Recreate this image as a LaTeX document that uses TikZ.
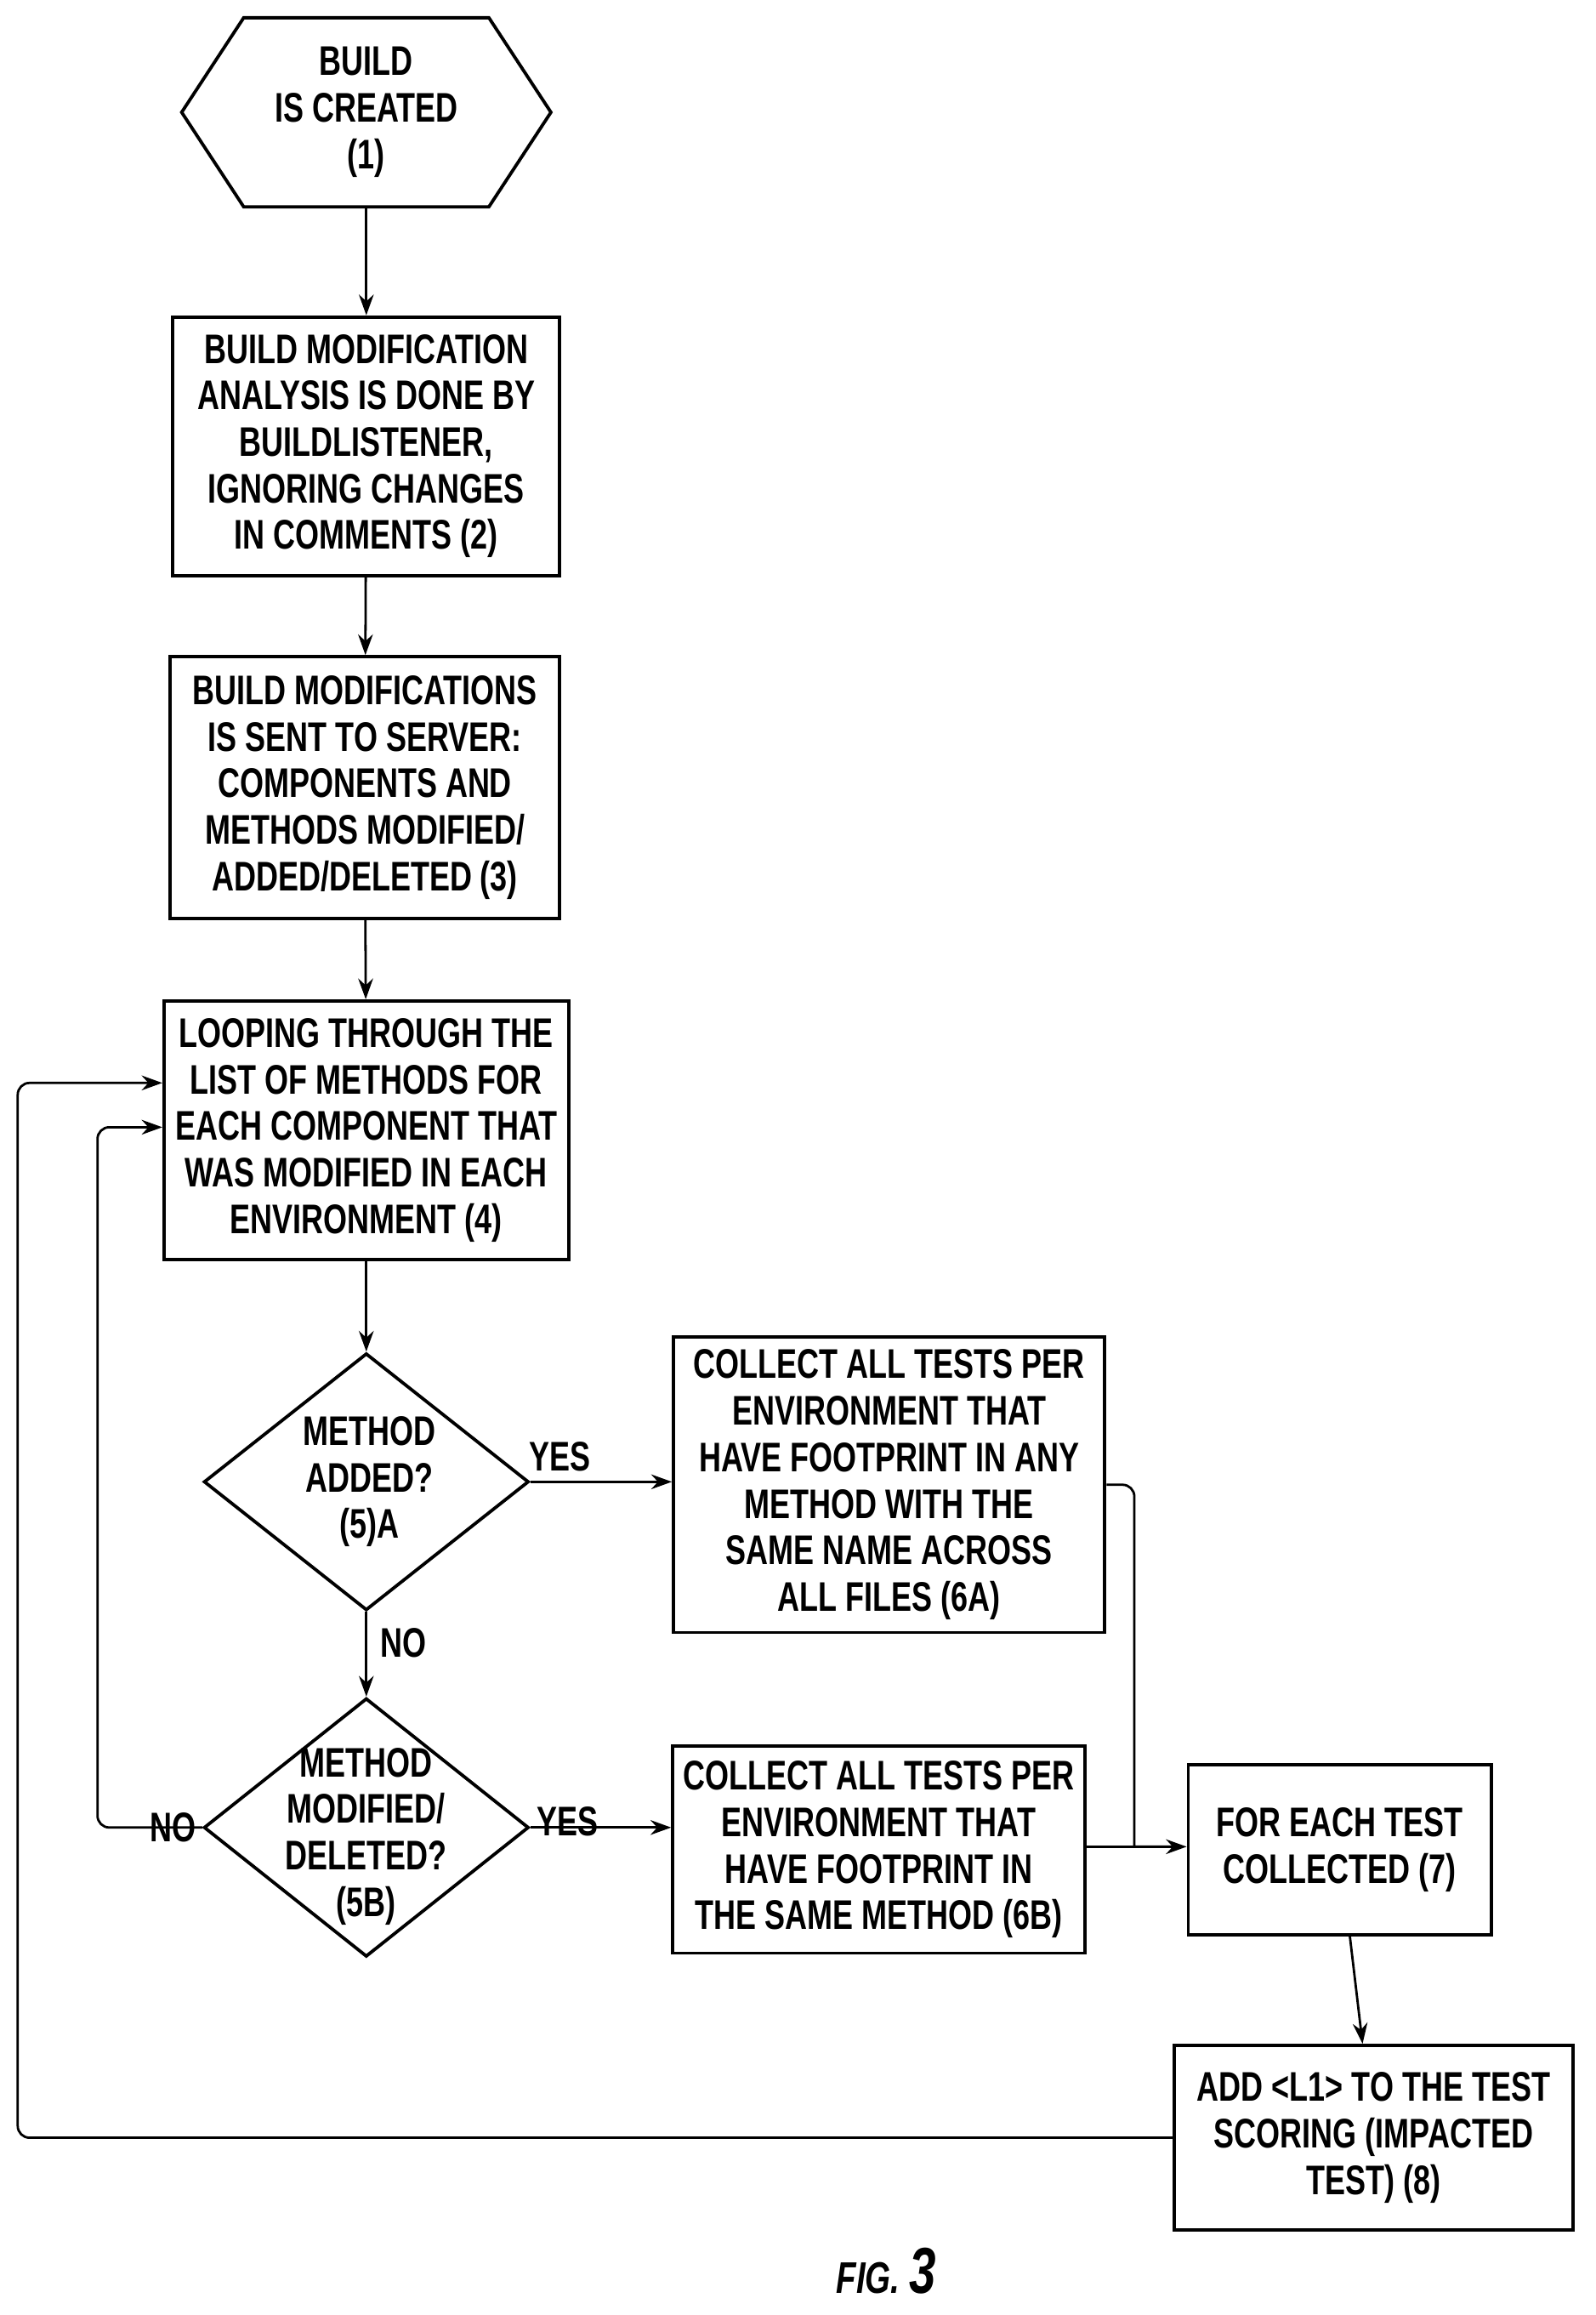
\documentclass[tikz,border=0pt]{standalone}
\usepackage{fontspec}
\setmainfont{Liberation Sans}[FakeStretch=0.74]
\usetikzlibrary{shapes.geometric,arrows.meta}
\begin{document}
\begin{tikzpicture}[x=1pt,y=-1pt,
  every node/.style={font=\bfseries\fontsize{28}{31.5}\selectfont,align=center,inner sep=0pt},
  box/.style={draw,line width=2.2pt},
  ln/.style={line width=1.6pt},
  ar/.style={ln,-{Stealth[length=14pt,width=10pt]}}]
\useasboundingbox (0,0) rectangle (1080,1567);
\draw[line width=2.2pt] (123,76)--(165,12)--(331,12)--(373,76)--(331,140)--(165,140)--cycle;
\node (n1) at (248,76) {BUILD\\IS CREATED\\(1)};
\coordinate (n1b) at (248,140);
\node[box,minimum width=262,minimum height=175] (n2) at (248,302) {BUILD MODIFICATION\\ANALYSIS IS DONE BY\\BUILDLISTENER,\\IGNORING CHANGES\\IN COMMENTS (2)};
\node[box,minimum width=264,minimum height=177] (n3) at (247,533) {BUILD MODIFICATIONS\\IS SENT TO SERVER:\\COMPONENTS AND\\METHODS MODIFIED/\\ADDED/DELETED (3)};
\node[box,minimum width=274,minimum height=175] (n4) at (248,765) {LOOPING THROUGH THE\\LIST OF METHODS FOR\\EACH COMPONENT THAT\\WAS MODIFIED IN EACH\\ENVIRONMENT (4)};
\node[draw,line width=2.2pt,diamond,minimum width=220,minimum height=174] (d5a) at (248,1003) {};
\node (t5a) at (250,1003) {METHOD\\ADDED?\\(5)A};
\node[box,minimum width=292,minimum height=200] (n6a) at (602,1005) {COLLECT ALL TESTS PER\\ENVIRONMENT THAT\\HAVE FOOTPRINT IN ANY\\METHOD WITH THE\\SAME NAME ACROSS\\ALL FILES (6A)};
\node[draw,line width=2.2pt,diamond,minimum width=220,minimum height=175] (d5b) at (248,1237) {};
\node (t5b) at (248,1243) {METHOD\\MODIFIED/\\DELETED?\\(5B)};
\node[box,minimum width=279,minimum height=140] (n6b) at (595,1252) {COLLECT ALL TESTS PER\\ENVIRONMENT THAT\\HAVE FOOTPRINT IN\\THE SAME METHOD (6B)};
\node[box,minimum width=205,minimum height=115] (n7) at (907,1252) {FOR EACH TEST\\COLLECTED (7)};
\node[box,minimum width=270,minimum height=125] (n8) at (930,1447) {ADD <L1> TO THE TEST\\SCORING (IMPACTED\\TEST) (8)};
\node[font=\bfseries\itshape\fontsize{30}{32}\selectfont] (fig) at (600,1537) {FIG. {\fontsize{44}{44}\selectfont 3}};
\node (y1) at (379,986) {YES};
\node (y2) at (384,1233) {YES};
\node (no1) at (273,1112) {NO};
\node (no2) at (117,1237) {NO};
\draw[ar] (n1b)--(n2);
\draw[ar] (n2)--(n3);
\draw[ar] (n3)--(n4);
\draw[ar] (n4)--(d5a);
\draw[ar] (d5a.east)--(n6a.west|-d5a.east);
\draw[ar] (d5a.south)--(d5b.north);
\draw[ar] (d5b.east)--(n6b.west|-d5b.east);
\draw[ar] (d5b.west)--(74,1237) to[out=180,in=270] (66,1229)--(66,771) to[out=90,in=180] (74,763)--(n4.west|-0,763);
\draw[ar] (n6a.east)--(760,1005) to[out=0,in=90] (768,1013)--(768,1250)--(n7.west|-0,1250);
\draw[ln] (n6b.east|-0,1250)--(768,1250);
\draw[ar] (n7)--(n8);
\draw[ar] (n8.west)--(20,1447) to[out=180,in=270] (12,1439)--(12,741) to[out=90,in=180] (20,733)--(n4.west|-0,733);
\end{tikzpicture}
\end{document}
